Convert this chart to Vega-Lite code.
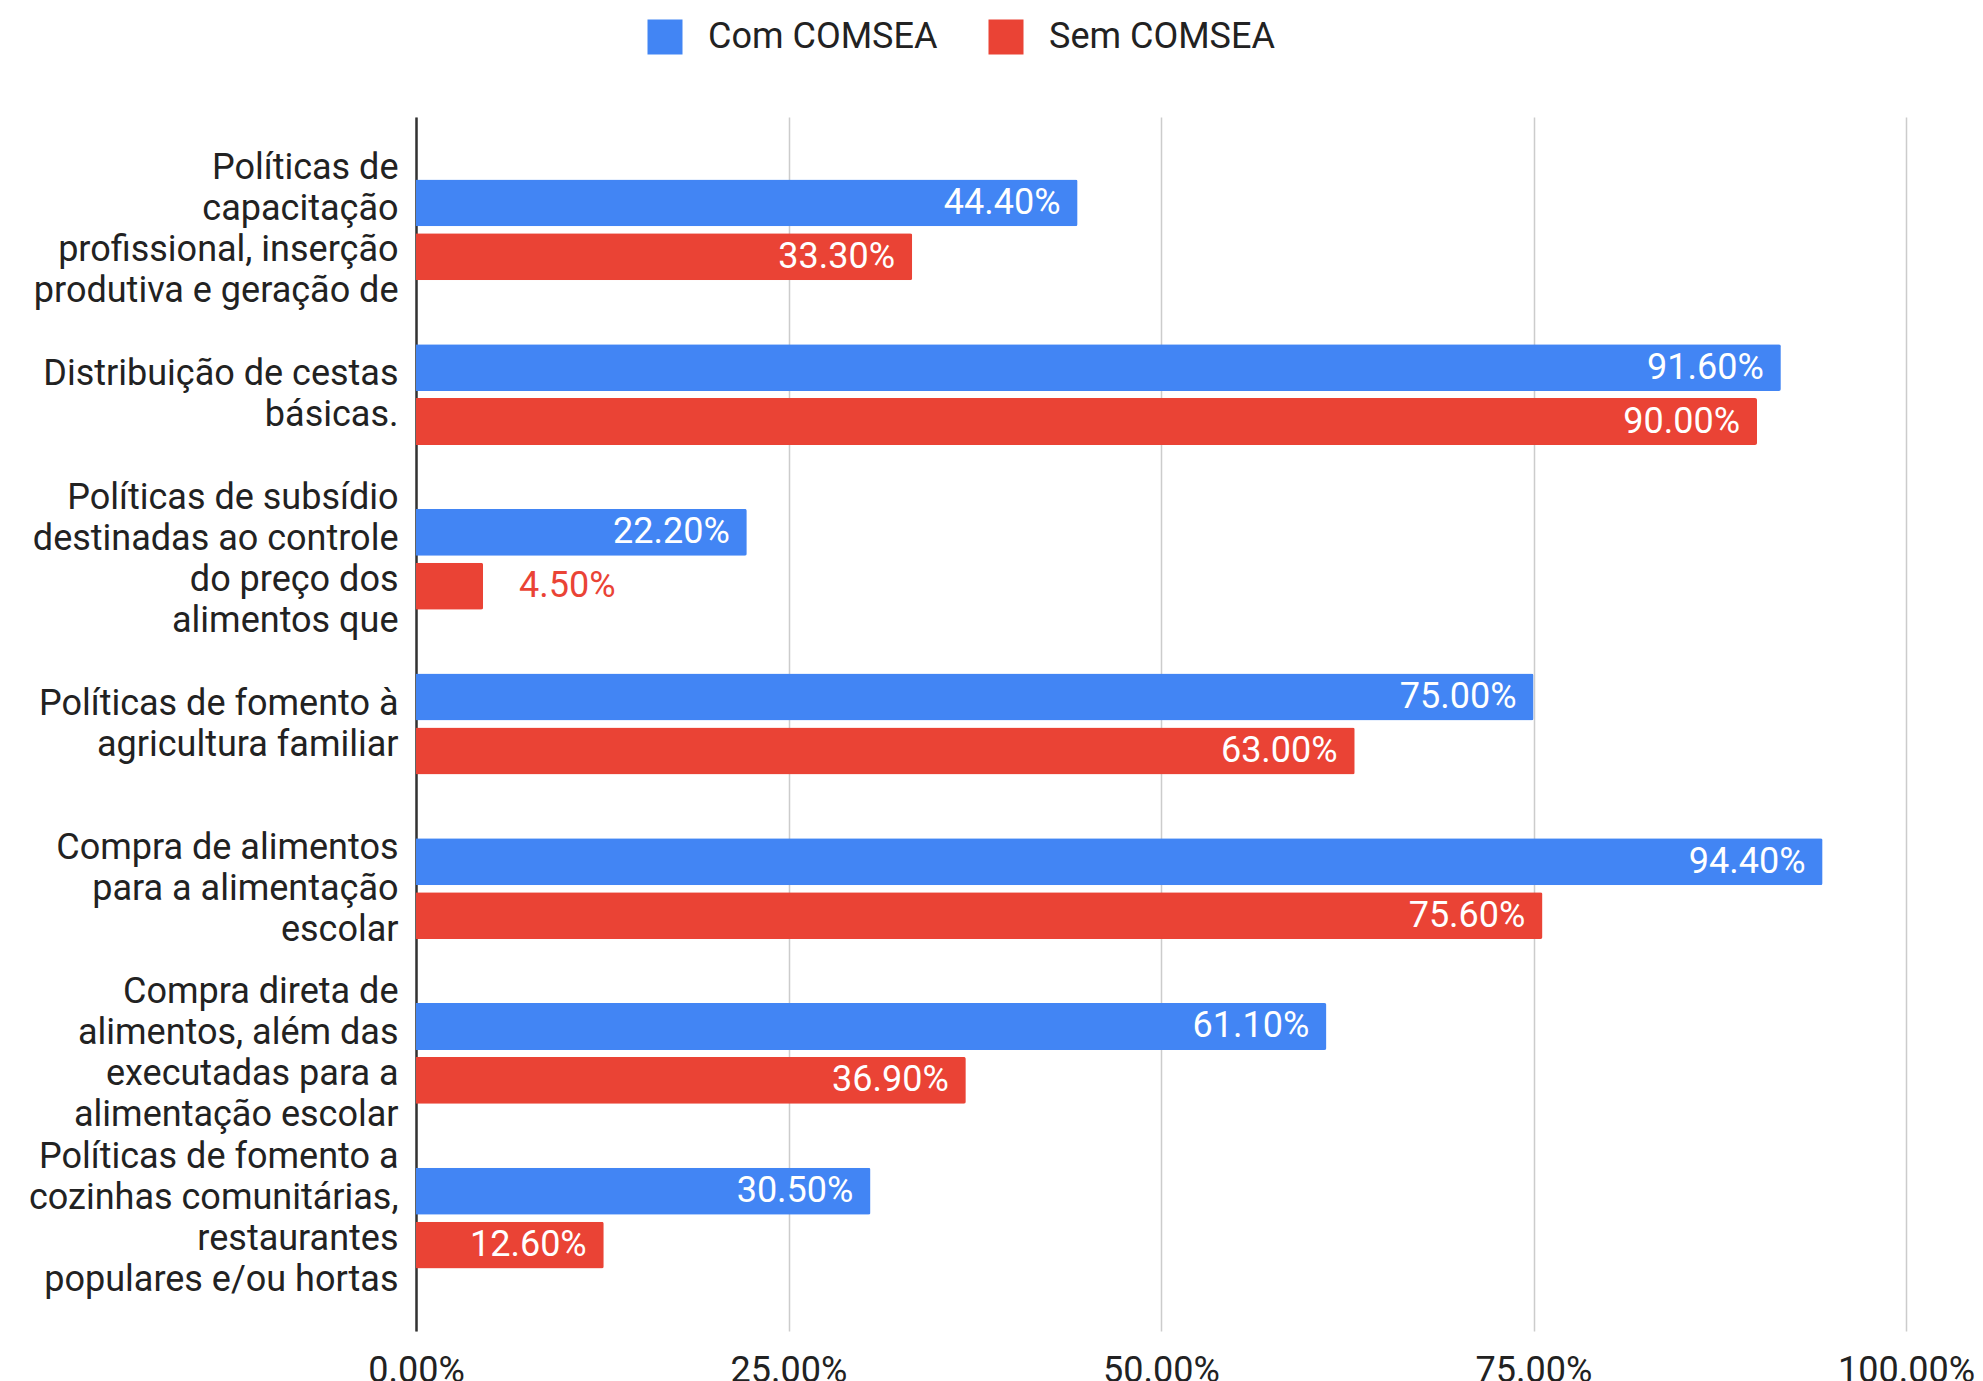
{
  "$schema": "https://vega.github.io/schema/vega-lite/v6.json",
  "width": 1490,
  "height": 1214,
  "autosize": {"type": "none"},
  "padding": {"left": 416, "top": 117, "right": 77, "bottom": 50},
  "background": "white",
  "config": {
    "font": "Roboto",
    "view": {"stroke": null},
    "axis": {"labelFont": "Roboto", "labelFontSize": 36, "labelColor": "#222222"}
  },
  "data": {
    "values": [
      {"cat": "Políticas de\ncapacitação\nprofissional, inserção\nprodutiva e geração de", "serie": "Com COMSEA", "v": 0.444},
      {"cat": "Políticas de\ncapacitação\nprofissional, inserção\nprodutiva e geração de", "serie": "Sem COMSEA", "v": 0.333},
      {"cat": "Distribuição de cestas\nbásicas.", "serie": "Com COMSEA", "v": 0.916},
      {"cat": "Distribuição de cestas\nbásicas.", "serie": "Sem COMSEA", "v": 0.90},
      {"cat": "Políticas de subsídio\ndestinadas ao controle\ndo preço dos\nalimentos que", "serie": "Com COMSEA", "v": 0.222},
      {"cat": "Políticas de subsídio\ndestinadas ao controle\ndo preço dos\nalimentos que", "serie": "Sem COMSEA", "v": 0.045},
      {"cat": "Políticas de fomento à\nagricultura familiar", "serie": "Com COMSEA", "v": 0.75},
      {"cat": "Políticas de fomento à\nagricultura familiar", "serie": "Sem COMSEA", "v": 0.63},
      {"cat": "Compra de alimentos\npara a alimentação\nescolar", "serie": "Com COMSEA", "v": 0.944},
      {"cat": "Compra de alimentos\npara a alimentação\nescolar", "serie": "Sem COMSEA", "v": 0.756},
      {"cat": "Compra direta de\nalimentos, além das\nexecutadas para a\nalimentação escolar", "serie": "Com COMSEA", "v": 0.611},
      {"cat": "Compra direta de\nalimentos, além das\nexecutadas para a\nalimentação escolar", "serie": "Sem COMSEA", "v": 0.369},
      {"cat": "Políticas de fomento a\ncozinhas comunitárias,\nrestaurantes\npopulares e/ou hortas", "serie": "Com COMSEA", "v": 0.305},
      {"cat": "Políticas de fomento a\ncozinhas comunitárias,\nrestaurantes\npopulares e/ou hortas", "serie": "Sem COMSEA", "v": 0.126}
    ]
  },
  "encoding": {
    "y": {
      "field": "cat", "type": "nominal", "sort": null,
      "scale": {"paddingInner": 0, "paddingOuter": 0.185},
      "axis": {
        "title": null, "ticks": false, "labelPadding": 18, "labelLimit": 500,
        "labelExpr": "split((length(split(datum.label, '\\n')) == 2 ? '\u200b\\n\u200b\\n' : length(split(datum.label, '\\n')) == 3 ? '\u200b\\n' : '') + replace(datum.label, regexp('\\n', 'g'), '\\n\u200b\\n'), '\\n')",
        "labelLineHeight": 20.5, "labelOffset": -61.5,
        "labelBaseline": "middle", "domain": true, "domainColor": "#333333", "domainWidth": 2.5,
        "grid": false
      }
    },
    "x": {
      "field": "v", "type": "quantitative",
      "scale": {"domain": [0, 1], "nice": false},
      "axis": {
        "title": null, "format": ".2%", "values": [0, 0.25, 0.5, 0.75, 1],
        "grid": true, "gridColor": "#cccccc", "gridWidth": 1.5, "domain": false, "ticks": false,
        "labelPadding": 22, "labelBaseline": "top", "labelFlush": false
      }
    },
    "yOffset": {
      "field": "serie", "type": "nominal",
      "scale": {"paddingInner": 0.13, "paddingOuter": 0.593}
    }
  },
  "layer": [
    {
      "mark": {"type": "bar", "cornerRadiusEnd": 2},
      "encoding": {
        "color": {
          "field": "serie", "type": "nominal",
          "scale": {"domain": ["Com COMSEA", "Sem COMSEA"], "range": ["#4285F4", "#EA4335"]},
          "legend": {
            "title": null, "orient": "none", "direction": "horizontal",
            "legendX": 231, "legendY": -98,
            "symbolType": "square", "symbolSize": 1225, "symbolStrokeWidth": 0, "symbolOpacity": 1,
            "labelFont": "Roboto", "labelFontSize": 36, "labelColor": "#222222",
            "labelOffset": 25, "columnPadding": 50, "labelLimit": 400
          }
        }
      }
    },
    {
      "transform": [{"filter": "datum.v > 0.1"}],
      "mark": {"type": "text", "align": "right", "baseline": "middle", "dx": -17, "fontSize": 36, "color": "white", "font": "Roboto"},
      "encoding": {"text": {"field": "v", "type": "quantitative", "format": ".2%"}}
    },
    {
      "transform": [{"filter": "datum.v <= 0.1"}],
      "mark": {"type": "text", "align": "left", "baseline": "middle", "dx": 36, "fontSize": 36, "color": "#EA4335", "font": "Roboto"},
      "encoding": {"text": {"field": "v", "type": "quantitative", "format": ".2%"}}
    }
  ]
}
